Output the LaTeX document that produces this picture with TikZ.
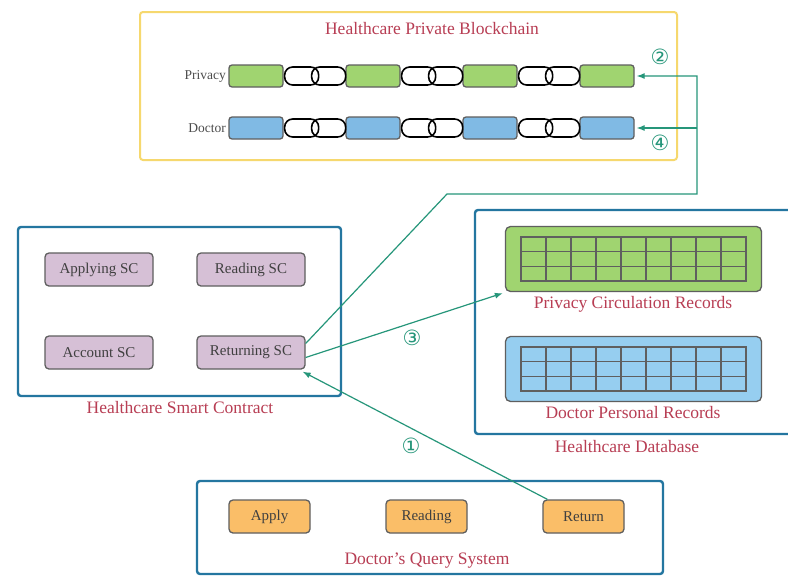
\documentclass[tikz,border=0pt]{standalone}
\usepackage{fontspec}
\setmainfont{Liberation Serif}
\newfontfamily\circfont{DejaVu Sans}
\usepackage{tikz}
\usetikzlibrary{arrows.meta}
\usetikzlibrary{positioning}
\usetikzlibrary{calc}
\definecolor{flowteal}{RGB}{38,150,122}
\definecolor{boxblue}{RGB}{36,118,160}
\definecolor{chainyellow}{RGB}{246,216,110}
\definecolor{titlered}{RGB}{184,62,84}
\definecolor{scpurple}{RGB}{214,192,214}
\definecolor{qorange}{RGB}{250,190,104}
\definecolor{pgreen}{RGB}{160,212,112}
\definecolor{dblue}{RGB}{128,186,228}
\definecolor{tblue}{RGB}{150,206,240}
\definecolor{edgegray}{RGB}{95,95,95}
\tikzstyle{scnode}=[draw=edgegray,fill=scpurple,rounded corners=4pt,line width=1.3pt,minimum width=108pt,minimum height=33pt,text=black!75,font=\fontsize{15}{17}\selectfont]
\tikzstyle{qnode}=[scnode,fill=qorange,minimum width=81pt]
\tikzstyle{block}=[draw=edgegray,rounded corners=3pt,line width=1.3pt,minimum width=54pt,minimum height=22pt]
\tikzstyle{table}=[draw=edgegray,rounded corners=5pt,line width=1.3pt,minimum width=256pt,minimum height=65pt]
\tikzstyle{container}=[draw=boxblue,rounded corners=3pt,line width=2.4pt]
\tikzstyle{title}=[text=titlered,font=\fontsize{17.5}{19}\selectfont]
\tikzstyle{step no}=[text=flowteal,font=\circfont\fontsize{21}{23}\selectfont]
\tikzstyle{flow}=[draw=flowteal,line width=1.2pt,-{Latex[length=8pt,width=6pt]}]

\begin{document}
\begin{tikzpicture}[x=1pt,y=-1pt]
\clip (0,0) rectangle (788,576);
\fill[white] (0,0) rectangle (788,576);

% private blockchain
\draw[chainyellow,line width=2pt,rounded corners=3pt] (140,12) rectangle (677,160);
\node[title] (chaintitle) at (432,29) {Healthcare Private Blockchain};
\foreach \x [count=\i] in {256,373,490,607} {
  \node[block,fill=pgreen] (p\i) at (\x,76) {};
  \node[block,fill=dblue] (d\i) at (\x,128) {};
}
\node[left=-1pt of p1,text=black!70,font=\fontsize{13.5}{15}\selectfont] (privlabel) {Privacy};
\node[left=-1pt of d1,text=black!70,font=\fontsize{13.5}{15}\selectfont] (doclabel) {Doctor};
\foreach \i in {1,2,3} {
  \foreach \r in {p,d} {
    \draw[line width=1.6pt,rounded corners=8pt] ($(\r\i.east)+(1,-9)$) rectangle ($(\r\i.east)+(35,9)$);
    \draw[line width=1.6pt,rounded corners=8pt] ($(\r\i.east)+(28,-9)$) rectangle ($(\r\i.east)+(62,9)$);
  }
}

% smart contract
\draw[container] (18,227) rectangle (341,396);
\node[title] (sctitle) at (180,408) {Healthcare Smart Contract};
\node[scnode] (apply) at (99,269.5) {Applying SC};
\node[scnode] (read) at (251,269.5) {Reading SC};
\node[scnode] (account) at (99,352.5) {Account SC};
\node[scnode] (ret) at (251,352.5) {Returning SC};

% database
\draw[container] (475,210) rectangle (800,434);
\node[title] (dbtitle) at (627,447) {Healthcare Database};
\node[table,fill=pgreen] (rec1) at (633.5,259) {};
\node[table,fill=tblue] (rec2) at (633.5,369) {};
\foreach \t/\y in {rec1/237,rec2/347} {
  \draw[edgegray,line width=1.2pt] (521,\y) rectangle (746,\y+44);
  \foreach \c in {1,...,8}
    \draw[edgegray,line width=1.2pt] (521+25*\c,\y) -- (521+25*\c,\y+44);
  \foreach \r in {1,2}
    \draw[edgegray,line width=1.2pt] (521,\y+14.67*\r) -- (746,\y+14.67*\r);
}
\node[title] (rec1title) at (633,304) {Privacy Circulation Records};
\node[title] (rec2title) at (633,413) {Doctor Personal Records};

% query system
\draw[container] (197,481) rectangle (663,574);
\node[title] (qtitle) at (427,561) {Doctor's Query System};
\node[qnode] (qapply) at (269.5,516.5) {Apply};
\node[qnode] (qread) at (426.5,516.5) {Reading};
\node[qnode] (qret) at (583.5,516.5) {Return};

% flows
\coordinate (bend) at (447,194);
\coordinate (corner) at (697,194);
\coordinate (split) at (697,128);
\draw[flow] ([xshift=5pt]qret.north west) -- ([shift={(-3pt,-2pt)}]ret.south east);
\draw[flow] ([yshift=-5pt]ret.east) -- ([shift={(-2pt,-1pt)}]rec1.south west);
\draw[flow] ([yshift=9pt]ret.east) -- (bend) -- (corner) |- ([xshift=2pt]p4.east);
\draw[flow] (split) -- ([xshift=2pt]d4.east);
\node[step no] (s1) at (411,446) {①};
\node[step no] (s2) at (660,57) {②};
\node[step no] (s3) at (412,338) {③};
\node[step no] (s4) at (660,143) {④};
\end{tikzpicture}
\end{document}
